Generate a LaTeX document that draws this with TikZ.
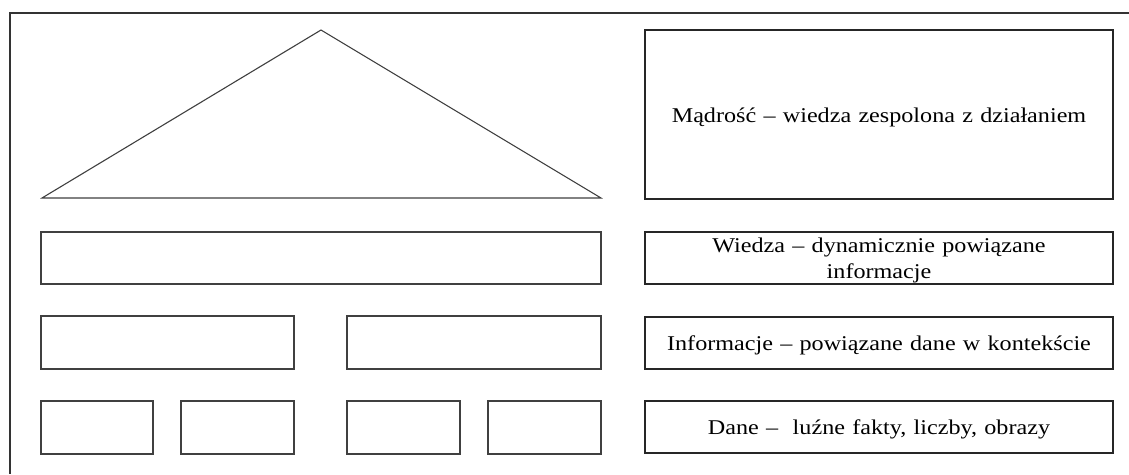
\documentclass[tikz,border=0pt]{standalone}
\usepackage{fontspec}
\setmainfont{Liberation Serif}[FakeStretch=1.15, WordSpace=1.2]
\begin{document}
\begin{tikzpicture}[x=1pt,y=-1pt,
  frameline/.style={draw=black!80, line width=1.3pt},
  plainbox/.style={draw=black!75, line width=1.2pt, inner sep=0pt, rectangle},
  labelbox/.style={draw=black!85, line width=1.6pt, inner sep=0pt, rectangle,
    minimum width=468pt},
  labeltext/.style={inner sep=0pt, align=center,
    font=\fontsize{21}{26}\selectfont},
  roof/.style={draw=black!75, line width=1.1pt, line join=miter}]
  \useasboundingbox (0,0) rectangle (1129,474);
  \fill[white] (0,0) rectangle (1129,474);

  % page frame: top and left edges
  \coordinate (fTL) at (10,13);
  \coordinate (fTR) at (1129,13);
  \coordinate (fBL) at (10,474);
  \draw[frameline] (fTR) -- (fTL) -- (fBL);

  % roof of the building
  \coordinate (apex) at (321,30);
  \coordinate (baseL) at (42,198);
  \coordinate (baseR) at (601,198);
  \draw[roof] (baseL) -- (apex) -- (baseR) -- cycle;

  % beam under the roof
  \node[plainbox, minimum width=560pt, minimum height=52pt] (beam) at (321,258) {};
  % two middle blocks
  \node[plainbox, minimum width=253pt, minimum height=53pt] (midL) at (167.5,342.5) {};
  \node[plainbox, minimum width=254pt, minimum height=53pt] (midR) at (474,342.5) {};
  % four foundation blocks
  \node[plainbox, minimum width=112pt, minimum height=53pt] (b1) at (97,427.5) {};
  \node[plainbox, minimum width=113pt, minimum height=53pt] (b2) at (237.5,427.5) {};
  \node[plainbox, minimum width=113pt, minimum height=53pt] (b3) at (403.5,427.5) {};
  \node[plainbox, minimum width=113pt, minimum height=53pt] (b4) at (544.5,427.5) {};

  % boxes describing the levels
  \node[labelbox, minimum height=169pt] (wisdom) at (879,114.5) {};
  \node[labelbox, minimum height=52pt] (knowledge) at (879,258) {};
  \node[labelbox, minimum height=52pt] (info) at (879,343) {};
  \node[labelbox, minimum height=52pt] (data) at (879,427) {};

  % their texts
  \node[labeltext] (wisdomtxt) at ([yshift=-2.5pt]wisdom.center)
    {Mądrość – wiedza zespolona z działaniem};
  \node[labeltext] (knowledgetxt) at ([yshift=-2.5pt]knowledge.center)
    {Wiedza – dynamicznie powiązane\\informacje};
  \node[labeltext] (infotxt) at ([yshift=-2pt]info.center)
    {Informacje – powiązane dane w kontekście};
  \node[labeltext] (datatxt) at ([yshift=-2.5pt]data.center)
    {Dane –\ \ luźne fakty, liczby, obrazy};
\end{tikzpicture}
\end{document}
